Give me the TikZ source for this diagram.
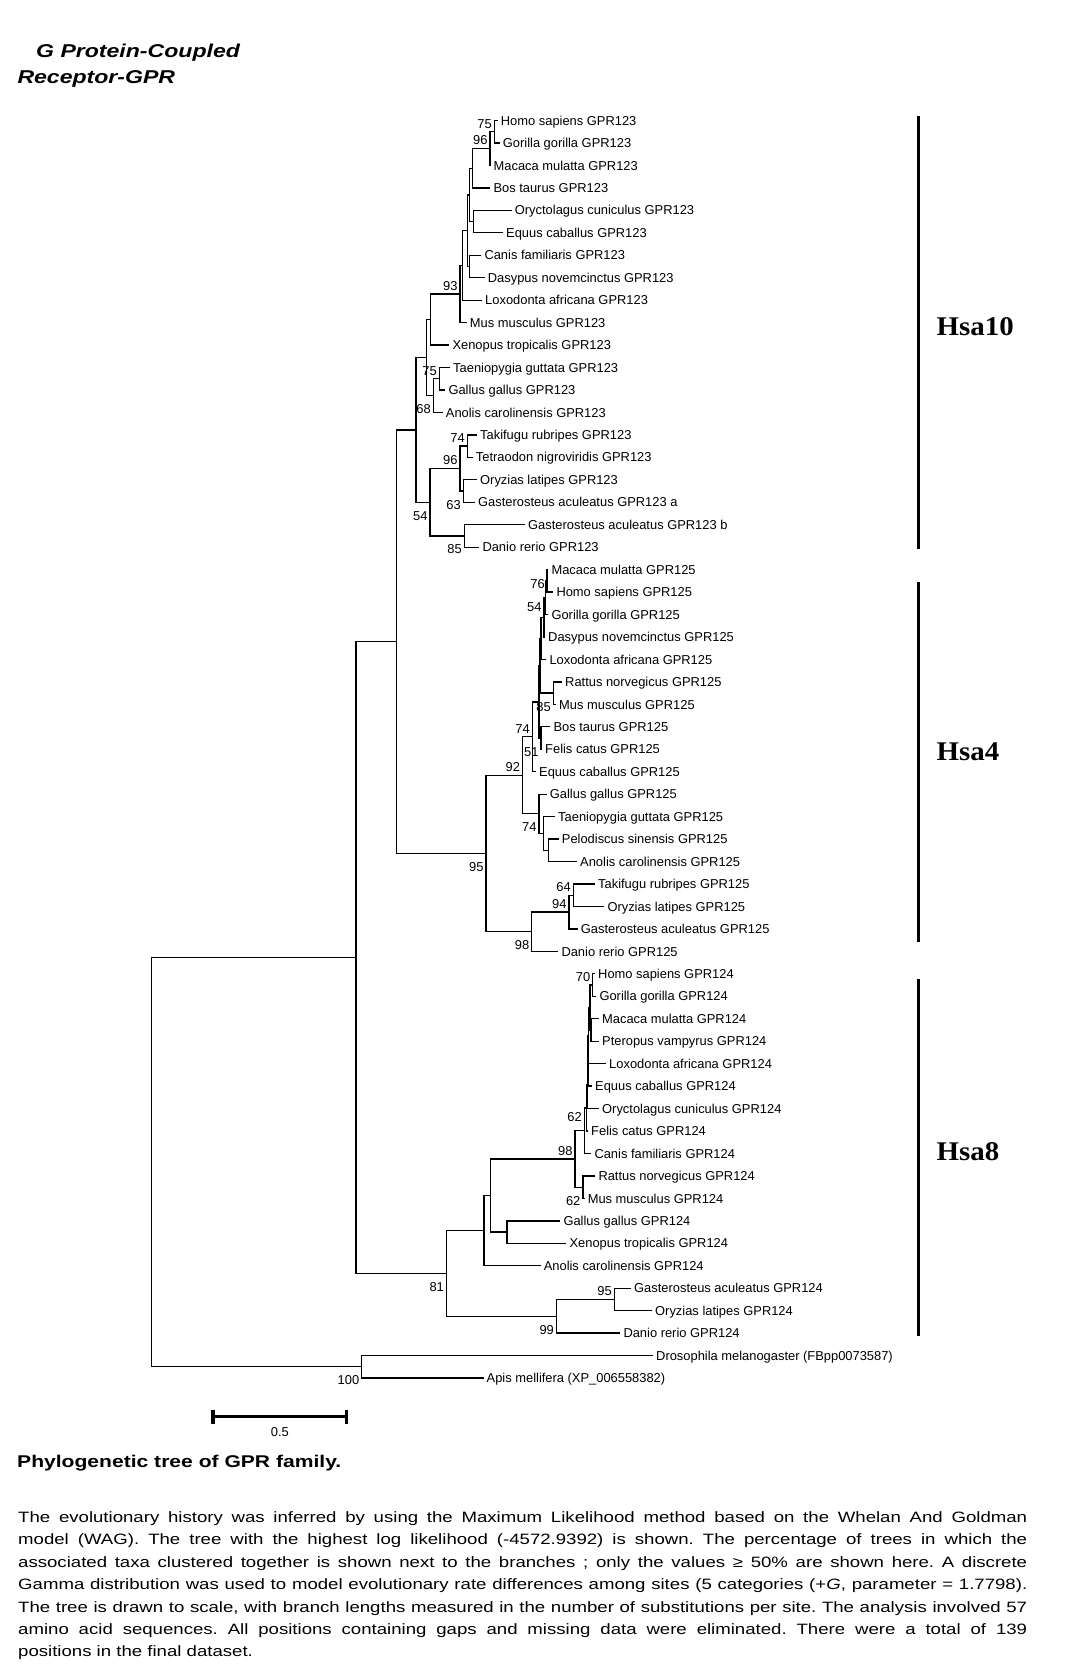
\documentclass[tikz,border=0pt]{standalone}
\usepackage{fontspec}
\setmainfont{Liberation Sans}
\newfontfamily\capfont[FakeStretch=1.24]{Liberation Sans}
\newfontfamily\hsafont[FakeStretch=1.07]{Liberation Serif}
\newcommand{\taxfont}{\fontsize{12.9}{14}\selectfont}
\frenchspacing

\tikzset{
  taxon/.style={anchor=west, inner xsep=3pt, inner ysep=0pt, text height=9.3pt, text depth=0pt, font=\taxfont},
  boot/.style={anchor=east, inner sep=0pt, text height=9.3pt, text depth=0pt, font=\taxfont},
  bsup/.style={boot, xshift=-2.3pt, yshift=8.3pt},
  bsdn/.style={boot, xshift=-2.3pt, yshift=-13.4pt},
  branch/.style={line width=1.3pt},
  chrbar/.style={line width=3.5pt},
  hsa/.style={anchor=base west, inner sep=0pt, font=\hsafont\bfseries\fontsize{27}{30}\selectfont}
}

\begin{document}
\begin{tikzpicture}[x=1pt, y=-1pt]
  \useasboundingbox (0,0) rectangle (1070,1673);

  % title
  \node[anchor=base west, inner sep=0pt, font=\capfont\bfseries\itshape\fontsize{18.6}{20}\selectfont] (head1) at (36,57.3) {G Protein-Coupled};
  \node[anchor=base west, inner sep=0pt, font=\capfont\bfseries\itshape\fontsize{18.6}{20}\selectfont] (head2) at (17.3,83.3) {Receptor-GPR};

  \begin{scope}[shift={(0,120.5)}, y=-22.456pt]
    % GPR123
    \node[taxon] (Hsap123) at (497.7,0) {Homo sapiens GPR123};
    \node[taxon] (Ggor123) at (499.7,1) {Gorilla gorilla GPR123};
    \node[taxon] (Mmul123) at (490.5,2) {Macaca mulatta GPR123};
    \node[taxon] (Btau123) at (490.3,3) {Bos taurus GPR123};
    \node[taxon] (Ocun123) at (511.7,4) {Oryctolagus cuniculus GPR123};
    \node[taxon] (Ecab123) at (503,5) {Equus caballus GPR123};
    \node[taxon] (Cfam123) at (481.3,6) {Canis familiaris GPR123};
    \node[taxon] (Dnov123) at (484.7,7) {Dasypus novemcinctus GPR123};
    \node[taxon] (Lafr123) at (482,8) {Loxodonta africana GPR123};
    \node[taxon] (Mmus123) at (466.7,9) {Mus musculus GPR123};
    \node[taxon] (Xtro123) at (449.3,10) {Xenopus tropicalis GPR123};
    \node[taxon] (Tgut123) at (450,11) {Taeniopygia guttata GPR123};
    \node[taxon] (Ggal123) at (445.3,12) {Gallus gallus GPR123};
    \node[taxon] (Acar123) at (442.7,13) {Anolis carolinensis GPR123};
    \node[taxon] (Trub123) at (477,14) {Takifugu rubripes GPR123};
    \node[taxon] (Tnig123) at (472.7,15) {Tetraodon nigroviridis GPR123};
    \node[taxon] (Olat123) at (477,16) {Oryzias latipes GPR123};
    \node[taxon] (Gacu123a) at (475,17) {Gasterosteus aculeatus GPR123 a};
    \node[taxon] (Gacu123b) at (525,18) {Gasterosteus aculeatus GPR123 b};
    \node[taxon] (Drer123) at (479.3,19) {Danio rerio GPR123};
    % GPR125
    \node[taxon] (Mmul125) at (548.3,20) {Macaca mulatta GPR125};
    \node[taxon] (Hsap125) at (553.3,21) {Homo sapiens GPR125};
    \node[taxon] (Ggor125) at (548.3,22) {Gorilla gorilla GPR125};
    \node[taxon] (Dnov125) at (545,23) {Dasypus novemcinctus GPR125};
    \node[taxon] (Lafr125) at (546.3,24) {Loxodonta africana GPR125};
    \node[taxon] (Rnor125) at (562,25) {Rattus norvegicus GPR125};
    \node[taxon] (Mmus125) at (556,26) {Mus musculus GPR125};
    \node[taxon] (Btau125) at (550.3,27) {Bos taurus GPR125};
    \node[taxon] (Fcat125) at (542,28) {Felis catus GPR125};
    \node[taxon] (Ecab125) at (536,29) {Equus caballus GPR125};
    \node[taxon] (Ggal125) at (546.7,30) {Gallus gallus GPR125};
    \node[taxon] (Tgut125) at (555,31) {Taeniopygia guttata GPR125};
    \node[taxon] (Psin125) at (558.7,32) {Pelodiscus sinensis GPR125};
    \node[taxon] (Acar125) at (577,33) {Anolis carolinensis GPR125};
    \node[taxon] (Trub125) at (595,34) {Takifugu rubripes GPR125};
    \node[taxon] (Olat125) at (604.3,35) {Oryzias latipes GPR125};
    \node[taxon] (Gacu125) at (577.7,36) {Gasterosteus aculeatus GPR125};
    \node[taxon] (Drer125) at (558.3,37) {Danio rerio GPR125};
    % GPR124
    \node[taxon] (Hsap124) at (595,38) {Homo sapiens GPR124};
    \node[taxon] (Ggor124) at (596.3,39) {Gorilla gorilla GPR124};
    \node[taxon] (Mmul124) at (599,40) {Macaca mulatta GPR124};
    \node[taxon] (Pvam124) at (599,41) {Pteropus vampyrus GPR124};
    \node[taxon] (Lafr124) at (606,42) {Loxodonta africana GPR124};
    \node[taxon] (Ecab124) at (592,43) {Equus caballus GPR124};
    \node[taxon] (Ocun124) at (599,44) {Oryctolagus cuniculus GPR124};
    \node[taxon] (Fcat124) at (588,45) {Felis catus GPR124};
    \node[taxon] (Cfam124) at (591.3,46) {Canis familiaris GPR124};
    \node[taxon] (Rnor124) at (595.3,47) {Rattus norvegicus GPR124};
    \node[taxon] (Mmus124) at (584.6,48) {Mus musculus GPR124};
    \node[taxon] (Ggal124) at (560.3,49) {Gallus gallus GPR124};
    \node[taxon] (Xtro124) at (566.4,50) {Xenopus tropicalis GPR124};
    \node[taxon] (Acar124) at (540.6,51) {Anolis carolinensis GPR124};
    \node[taxon] (Gacu124) at (631,52) {Gasterosteus aculeatus GPR124};
    \node[taxon] (Olat124) at (652,53) {Oryzias latipes GPR124};
    \node[taxon] (Drer124) at (620.3,54) {Danio rerio GPR124};
    % outgroup
    \node[taxon] (Dmel) at (653,55) {Drosophila melanogaster (FBpp0073587)};
    \node[taxon] (Amel) at (483.5,56) {Apis mellifera (XP\_006558382)};

    % inner nodes
    \coordinate (n75a) at (494.3,0.5);
    \coordinate (n96a) at (490,1.25);
    \coordinate (nA1) at (472.7,2.125);
    \coordinate (nOE) at (473.7,4.5);
    \coordinate (nA2) at (469.3,3.3125);
    \coordinate (nCD) at (469.3,6.5);
    \coordinate (nA3) at (467.3,4.906);
    \coordinate (nA4) at (462.7,6.453);
    \coordinate (n93) at (460,7.727);
    \coordinate (nX) at (430.5,8.864);
    \coordinate (n75b) at (439.3,11.5);
    \coordinate (n68) at (433.3,12.25);
    \coordinate (nB) at (426.7,10.557);
    \coordinate (n74a) at (467.3,14.5);
    \coordinate (n63) at (463.3,16.5);
    \coordinate (n96b) at (460,15.5);
    \coordinate (n85a) at (464.3,18.5);
    \coordinate (n54a) at (430,17);
    \coordinate (nT) at (416,13.779);
    \coordinate (n76) at (547,20.5);
    \coordinate (n54b) at (545.7,21.25);
    \coordinate (nD) at (544,22.125);
    \coordinate (nL) at (541,23.063);
    \coordinate (n85b) at (553.3,25.5);
    \coordinate (nLR) at (540,24.281);
    \coordinate (nBF) at (541,27.5);
    \coordinate (nX2) at (539,25.891);
    \coordinate (n74b) at (532.3,27.445);
    \coordinate (nPA) at (548.3,32.5);
    \coordinate (nTPA) at (543.3,31.75);
    \coordinate (nG) at (539,30.875);
    \coordinate (n92) at (522.5,29.16);
    \coordinate (n64) at (573.3,34.5);
    \coordinate (n94) at (569,35.25);
    \coordinate (n98a) at (531.7,36.125);
    \coordinate (n95a) at (486,32.643);
    \coordinate (nGPR) at (396.7,23.211);
    \coordinate (n70) at (592.7,38.5);
    \coordinate (nMP) at (591,40.5);
    \coordinate (nA) at (590,39.5);
    \coordinate (nC) at (588.5,40.75);
    \coordinate (nE) at (588,41.875);
    \coordinate (nEO) at (587.3,42.938);
    \coordinate (nF) at (586.3,43.969);
    \coordinate (n62a) at (584.7,44.984);
    \coordinate (n62b) at (582.9,47.5);
    \coordinate (n98b) at (575,46.242);
    \coordinate (nGX) at (507.1,49.5);
    \coordinate (nM) at (490.4,47.871);
    \coordinate (nAn) at (483.9,49.436);
    \coordinate (n95b) at (614.3,52.5);
    \coordinate (n99) at (556.4,53.25);
    \coordinate (n81) at (446.4,51.343);
    \coordinate (nL2) at (356,37.277);
    \coordinate (n100) at (361.7,55.5);
    \coordinate (root) at (151.7,46.389);

    % branches
    \foreach \p/\a/\b in {n75a/Hsap123/Ggor123, n96a/n75a/Mmul123, nA1/n96a/Btau123,
        nOE/Ocun123/Ecab123, nA2/nA1/nOE, nCD/Cfam123/Dnov123, nA3/nA2/nCD,
        nA4/nA3/Lafr123, n93/nA4/Mmus123, nX/n93/Xtro123, n75b/Tgut123/Ggal123,
        n68/n75b/Acar123, nB/nX/n68, n74a/Trub123/Tnig123, n63/Olat123/Gacu123a,
        n96b/n74a/n63, n85a/Gacu123b/Drer123, n54a/n96b/n85a, nT/nB/n54a,
        n76/Mmul125/Hsap125, n54b/n76/Ggor125, nD/n54b/Dnov125, nL/nD/Lafr125,
        n85b/Rnor125/Mmus125, nLR/nL/n85b, nBF/Btau125/Fcat125, nX2/nLR/nBF,
        n74b/nX2/Ecab125, nPA/Psin125/Acar125, nTPA/Tgut125/nPA, nG/Ggal125/nTPA,
        n92/n74b/nG, n64/Trub125/Olat125, n94/n64/Gacu125, n98a/n94/Drer125,
        n95a/n92/n98a, nGPR/nT/n95a,
        n70/Hsap124/Ggor124, nMP/Mmul124/Pvam124, nA/n70/nMP, nC/nA/Lafr124,
        nE/nC/Ecab124, nEO/nE/Ocun124, nF/nEO/Fcat124, n62a/nF/Cfam124,
        n62b/Rnor124/Mmus124, n98b/n62a/n62b, nGX/Ggal124/Xtro124, nM/n98b/nGX,
        nAn/nM/Acar124, n95b/Gacu124/Olat124, n99/n95b/Drer124, n81/nAn/n99,
        nL2/nGPR/n81, n100/Dmel/Amel, root/nL2/n100}
      \draw[branch] (\a) -| (\p) |- (\b);

    % bootstrap values
    \node[bsup] (bs75a) at (n75a) {75};
    \node[bsup] (bs96a) at (n96a) {96};
    \node[bsup] (bs93) at (n93) {93};
    \node[bsup] (bs75b) at (n75b) {75};
    \node[bsdn] (bs68) at (n68) {68};
    \node[bsup] (bs74a) at (n74a) {74};
    \node[bsup] (bs96b) at (n96b) {96};
    \node[bsdn] (bs63) at (n63) {63};
    \node[bsdn] (bs54a) at (n54a) {54};
    \node[bsdn] (bs85a) at (n85a) {85};
    \node[boot] (bs76) at (545,20.654) {76};
    \node[boot] (bs54b) at (541.7,21.651) {54};
    \node[bsdn] (bs85b) at (n85b) {85};
    \node[bsup] (bs74b) at (n74b) {74};
    \node[bsdn] (bs51) at (nBF) {51};
    \node[bsup] (bs92) at (n92) {92};
    \node[bsdn] (bs74c) at (nG) {74};
    \node[bsdn] (bs95a) at (n95a) {95};
    \node[bsup] (bs64) at (n64) {64};
    \node[bsup] (bs94) at (n94) {94};
    \node[bsdn] (bs98a) at (n98a) {98};
    \node[bsup] (bs70) at (n70) {70};
    \node[boot] (bs62a) at (582,44.376) {62};
    \node[bsup] (bs98b) at (n98b) {98};
    \node[bsdn] (bs62b) at (n62b) {62};
    \node[bsdn] (bs81) at (n81) {81};
    \node[bsup] (bs95b) at (n95b) {95};
    \node[bsdn] (bs99) at (n99) {99};
    \node[bsdn] (bs100) at (n100) {100};
  \end{scope}

  % chromosome bars
  \draw[chrbar] (918.5,115.5) -- (918.5,549);
  \draw[chrbar] (918.5,582) -- (918.5,941.5);
  \draw[chrbar] (918.5,979) -- (918.5,1336);
  \node[hsa] (hsa10) at (936.5,335.7) {Hsa10};
  \node[hsa] (hsa4) at (936.5,760) {Hsa4};
  \node[hsa] (hsa8) at (936.5,1160) {Hsa8};

  % scale bar
  \coordinate (sb0) at (213,1416.7);
  \coordinate (sb1) at (346.7,1416.7);
  \draw[chrbar] (sb0) -- (sb1);
  \draw[chrbar] ([yshift=7pt]sb0) -- ([yshift=-7pt]sb0);
  \draw[chrbar] ([yshift=7pt]sb1) -- ([yshift=-7pt]sb1);
  \node[inner sep=0pt, text height=9.3pt, text depth=0pt, font=\taxfont] (sblab) at (279.8,1432) {0.5};

  % caption
  \node[anchor=base west, inner sep=0pt, font=\capfont\bfseries\fontsize{17}{18}\selectfont] (capt) at (17,1467.7) {Phylogenetic tree of GPR family.};
  \node[anchor=north west, inner sep=0pt, text width=1009pt, align=justify,
        font=\capfont\fontsize{15}{22.4}\selectfont] (legend) at (18,1510.3)
    {\noindent\rule{0pt}{12pt}The evolutionary history was inferred by using the Maximum Likelihood method based on the Whelan And Goldman\linebreak
     model (WAG). The tree with the highest log likelihood (-4572.9392) is shown. The percentage of trees in which the\linebreak
     associated taxa clustered together is shown next to the branches ; only the values ≥ 50\% are shown here. A discrete\linebreak
     Gamma distribution was used to model evolutionary rate differences among sites (5 categories (+\textit{G}, parameter = 1.7798).\linebreak
     The tree is drawn to scale, with branch lengths measured in the number of substitutions per site. The analysis involved 57\linebreak
     amino acid sequences. All positions containing gaps and missing data were eliminated. There were a total of 139\linebreak
     positions in the final dataset.};
\end{tikzpicture}
\end{document}
